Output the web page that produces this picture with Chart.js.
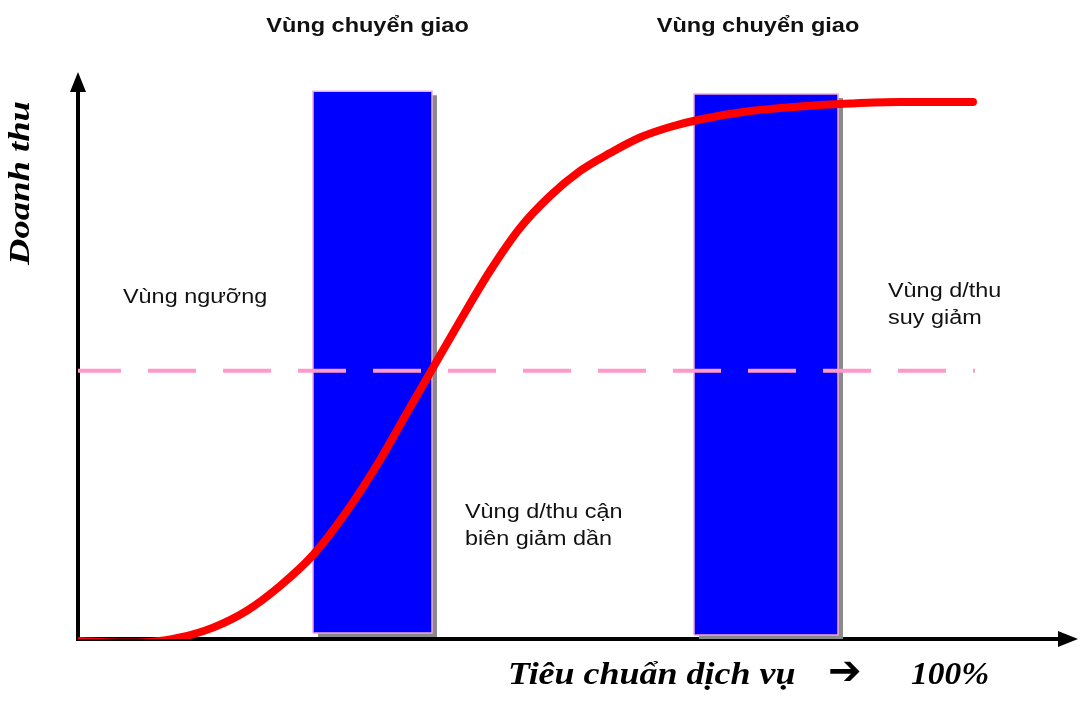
<!DOCTYPE html>
<html>
<head>
<meta charset="utf-8">
<script src="https://cdn.jsdelivr.net/npm/chart.js@4.4.1/dist/chart.umd.min.js"></script>
<style>
  html, body { margin: 0; padding: 0; background: #ffffff; }
  canvas { display: block; }
</style>
</head>
<body>
<canvas id="c" width="1080" height="701"></canvas>
<script>
// ---- data (x: service standard 0..100, y: revenue 0..100) ----
const curveX = [0, 4.2, 7.2, 10.2, 13.5, 16.9, 20.2, 23.5, 26.9, 30.2, 32.8, 35.4, 38.2, 41.2, 44.2, 47.2, 50.2, 53.2, 56.2, 59.2, 62.2, 67.2, 72.2, 77.2, 82.2, 89.5];
const curveY = [-0.35, -0.62, -0.53, 0.26, 2.01, 5.01, 9.35, 14.81, 22.57, 31.57, 39.59, 47.53, 56.08, 64.9, 72.49, 78.13, 82.54, 85.71, 88.45, 90.3, 91.62, 93.12, 93.92, 94.44, 94.71, 94.71];

const bandStart  = [23.5, 61.6];
const bandEnd    = [35.4, 76.0];
const bandTop    = [96.6, 96.1];
const bandBottom = [1.06, 0.7];
const bandTitles = ['Vùng chuyển giao', 'Vùng chuyển giao'];

const thresholdLevel = 47.3;
const thresholdRange = [0, 89.7];

const regionLabels = [
  { lines: ['Vùng ngưỡng'], x: 4.5, y: 59.26 },
  { lines: ['Vùng d/thu', 'suy giảm'], x: 81.0, y: 60.3 },
  { lines: ['Vùng d/thu cận', 'biên giảm dần'], x: 38.7, y: 21.34 }
];
const yAxisTitle = 'Doanh thu';
const xAxisTitle = 'Tiêu chuẩn dịch vụ';
const xAxisArrow = '➔';
const xAxisEnd = '100%';

// ---- build datasets ----
const curveData = curveX.map((x, i) => ({ x, y: curveY[i] }));
const bandDatasets = bandStart.map((s, i) => ({
  label: 'band' + i,
  data: [
    { x: s, y: bandBottom[i] },
    { x: s, y: bandTop[i] },
    { x: bandEnd[i], y: bandTop[i] },
    { x: bandEnd[i], y: bandBottom[i] },
    { x: s, y: bandBottom[i] }
  ],
  borderColor: '#f4a6d8',
  borderWidth: 1.5,
  backgroundColor: '#0000ff',
  fill: 'shape',
  tension: 0,
  pointRadius: 0,
  order: 2
}));

function stretchedText(ctx, text, x, y, sx) {
  ctx.save();
  ctx.translate(x, y);
  ctx.scale(sx, 1);
  ctx.fillText(text, 0, 0);
  ctx.restore();
}

const decor = {
  id: 'decor',
  beforeDatasetsDraw(chart) {
    const { ctx, scales: { x, y } } = chart;
    const x0 = x.getPixelForValue(0), y0 = y.getPixelForValue(0);
    const xR = chart.chartArea.right, yT = chart.chartArea.top;
    ctx.save();
    ctx.strokeStyle = '#000'; ctx.fillStyle = '#000'; ctx.lineWidth = 4;
    ctx.beginPath();
    ctx.moveTo(x0, y0 + 2); ctx.lineTo(x0, yT + 16);
    ctx.moveTo(x0 - 2, y0); ctx.lineTo(xR - 16, y0);
    ctx.stroke();
    ctx.beginPath();
    ctx.moveTo(x0, yT); ctx.lineTo(x0 - 8, yT + 20); ctx.lineTo(x0 + 8, yT + 20); ctx.closePath(); ctx.fill();
    ctx.beginPath();
    ctx.moveTo(xR, y0); ctx.lineTo(xR - 20, y0 - 8); ctx.lineTo(xR - 20, y0 + 8); ctx.closePath(); ctx.fill();
    ctx.fillStyle = '#8a8a8a';
    bandStart.forEach((s, i) => {
      const l = x.getPixelForValue(s), r = x.getPixelForValue(bandEnd[i]);
      const t = y.getPixelForValue(bandTop[i]), b = y.getPixelForValue(bandBottom[i]);
      ctx.fillRect(l + 5, t + 4, r - l, b - t);
    });
    ctx.restore();
  },
  afterDraw(chart) {
    const { ctx, scales: { x, y } } = chart;
    ctx.save();
    ctx.fillStyle = '#111';
    ctx.textBaseline = 'alphabetic';
    // band titles
    ctx.font = 'bold 21px "Liberation Sans", Arial, sans-serif';
    ctx.textAlign = 'center';
    bandTitles.forEach((t, i) => {
      const cx = (x.getPixelForValue(bandStart[i]) + x.getPixelForValue(bandEnd[i])) / 2;
      stretchedText(ctx, t, cx - 5 - i * 3, 32, 1.12);
    });
    // region labels
    ctx.font = '20px "Liberation Sans", Arial, sans-serif';
    ctx.textAlign = 'left';
    regionLabels.forEach(r => {
      const px = x.getPixelForValue(r.x), py = y.getPixelForValue(r.y);
      r.lines.forEach((ln, k) => stretchedText(ctx, ln, px, py + k * 27, 1.17));
    });
    // y axis title
    ctx.save();
    ctx.translate(21, 183);
    ctx.rotate(-Math.PI / 2);
    ctx.scale(1.22, 1);
    ctx.textAlign = 'center'; ctx.textBaseline = 'middle';
    ctx.font = 'bold italic 30px "Liberation Serif", "Times New Roman", serif';
    ctx.fillStyle = '#000';
    ctx.fillText(yAxisTitle, 0, 0);
    ctx.restore();
    // x axis title
    ctx.fillStyle = '#000';
    ctx.textAlign = 'left';
    ctx.font = 'bold italic 31px "Liberation Serif", "Times New Roman", serif';
    stretchedText(ctx, xAxisTitle, 508, 684, 1.16);
    stretchedText(ctx, xAxisEnd, 911, 684, 1.08);
    ctx.font = 'bold 40px "DejaVu Sans", sans-serif';
    ctx.textBaseline = 'middle';
    ctx.fillText(xAxisArrow, 828, 674);
    ctx.restore();
  }
};

new Chart(document.getElementById('c'), {
  type: 'line',
  data: {
    datasets: [
      {
        label: 'Doanh thu',
        data: curveData,
        borderColor: '#ff0000',
        borderWidth: 8,
        borderCapStyle: 'round',
        cubicInterpolationMode: 'monotone',
        pointRadius: 0,
        fill: false,
        order: 0
      },
      {
        label: 'threshold',
        data: thresholdRange.map(v => ({ x: v, y: thresholdLevel })),
        borderColor: '#ff99cc',
        borderWidth: 4,
        borderDash: [48, 27],
        borderDashOffset: 5,
        pointRadius: 0,
        fill: false,
        order: 1
      },
      ...bandDatasets
    ]
  },
  options: {
    responsive: false,
    devicePixelRatio: 1,
    animation: false,
    layout: { padding: { left: 78, right: 2, top: 72, bottom: 62 } },
    scales: {
      x: { type: 'linear', min: 0, max: 100, display: false },
      y: { type: 'linear', min: 0, max: 100, display: false }
    },
    plugins: { legend: { display: false }, tooltip: { enabled: false } }
  },
  plugins: [decor]
});
</script>
</body>
</html>
